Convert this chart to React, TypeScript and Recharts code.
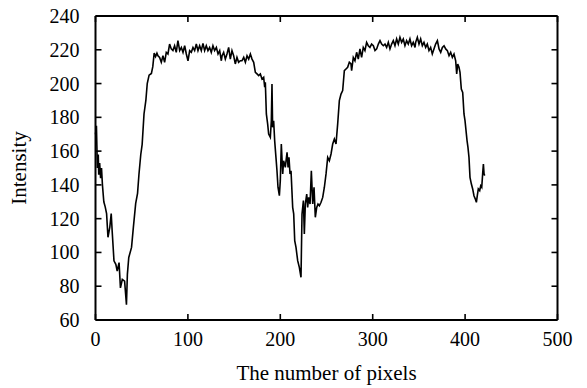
import { LineChart, Line, XAxis, YAxis } from "recharts";

// pixel position along the scan line
const pixelIndex = [
  0, 1, 1.5, 2, 3, 3.5, 4.5, 5.5, 6.5, 7.5, 9, 10.5, 12, 13.5, 15.5, 17, 18, 20, 22, 23.5,
  25.5, 27, 29, 31.5, 33.5, 34.5, 36, 39, 41, 43.5, 45.5, 47, 49, 50.5, 52.5, 54.5, 56, 58, 60.5, 62,
  63.5, 65, 66.5, 67.6, 69.4, 71.2, 73, 74.8, 76.6, 78.4, 80.2, 82, 83.8, 85.6, 87.4, 89.2, 91.1, 92.9, 94.7, 96.5,
  98.3, 100.1, 101.9, 103.7, 105.5, 107.3, 109.1, 110.9, 112.7, 114.5, 116.3, 118.1, 119.9, 121.7, 123.5, 125.3, 127.1, 128.9, 130.8, 132.6,
  134.4, 136.2, 137, 138.7, 140.5, 142.3, 144.1, 145.9, 147.7, 149.5, 151.3, 153.1, 154.9, 156.7, 158.5, 160.4, 162.2, 164, 165.8, 167.6,
  169.4, 171.2, 173, 174.8, 176.6, 178.4, 180.2, 182, 183.1, 183.8, 184.9, 186.3, 187.4, 189.2, 190.3, 191, 191.7, 192.8, 193.9, 195.3,
  196.4, 197.5, 199, 200, 201.1, 202.6, 203.6, 205.4, 207.3, 208.4, 209.4, 210.5, 211.6, 213.4, 214.5, 215.6, 217, 218.8, 220.6, 222.4,
  223.5, 225, 226, 227.1, 228.6, 229.6, 230.7, 232.2, 233.6, 235.1, 236.5, 237.9, 239.4, 240.8, 242.3, 244.1, 245.9, 247.7, 249.5, 251.3,
  253.1, 254.9, 256.7, 258.5, 260.3, 262.1, 263.9, 265.7, 267.5, 269.3, 271.1, 272.9, 274.7, 276.5, 277.2, 279, 280.8, 282.6, 284.4, 286.2,
  288, 289.8, 291.6, 293.4, 295.2, 297, 298.8, 300.7, 302.5, 304.3, 306.1, 307.9, 309.7, 311.5, 313.3, 315.1, 316.9, 318.7, 320.5, 322.3,
  324.1, 325.9, 327.7, 329.5, 331.3, 333.1, 334.9, 336.7, 338.5, 340.3, 342.1, 343.9, 345.8, 346.5, 348.3, 350.1, 351.9, 353.7, 355.5, 357.3,
  359.1, 360.9, 362.7, 364.5, 366.3, 368.1, 370, 371.8, 373.6, 375.4, 377.2, 379, 380.8, 382.6, 384.4, 386.2, 388, 389.8, 390.9, 392,
  393.4, 394.5, 395.9, 397.4, 398.8, 399.9, 401, 402.1, 403.1, 404.2, 405.3, 406.8, 408.2, 409.6, 411.1, 412.2, 413.2, 414.3, 415.8, 416.9,
  418, 419, 419.8, 420.5, 421.2,
];

const intensity = [
  170, 175, 163, 150, 158, 146, 153, 144, 150, 140, 130, 127, 123, 109, 115, 123, 113, 95, 93, 89,
  94, 79, 84, 83, 69, 87, 97, 103, 115, 129, 135, 146, 158, 164, 182, 190, 200, 205, 206, 210,
  218, 216, 218, 216.5, 215.5, 212.6, 216.5, 212.6, 218.5, 217.5, 223.4, 220.5, 219.5, 222.4, 218.5, 225.4, 219.5, 221.4, 218.5, 222.4,
  217.5, 213.5, 219.5, 218.5, 221.4, 219.5, 223.4, 219.5, 222.4, 219.5, 223.8, 219.5, 222.4, 219.5, 221.4, 218.5, 222.4, 219.5, 221.4, 217.5,
  219.5, 213.5, 216.5, 218.5, 214.5, 217.5, 221.4, 214.5, 219.5, 216.5, 211.6, 215.5, 212.6, 213.5, 213.5, 215.5, 212.6, 216.5, 214.5, 217.5,
  214.5, 212.6, 206.6, 205.7, 204.7, 205.7, 202.7, 203.7, 197.8, 200.7, 182, 176.1, 170.1, 168.2, 178, 199.7, 174.1, 178, 166.2, 156.3,
  148.4, 138.6, 133.6, 142.5, 164.2, 146.5, 154.3, 150.4, 159.3, 150.4, 156.3, 146.5, 148.4, 126.7, 122.8, 107, 103, 95.1, 91.2, 85.3,
  122.8, 130.7, 110.9, 128.7, 134.6, 126.7, 132.6, 128.7, 148.4, 128.7, 138.6, 120.8, 126.7, 128.7, 127.7, 129.7, 132.6, 138.6, 146.5, 156.3,
  154.3, 158.3, 164.2, 167.2, 164.2, 176.1, 189.9, 193.8, 195.8, 207.6, 208.6, 209.6, 212.6, 211.6, 207.6, 215.5, 213.5, 218.5, 214.5, 220.5,
  215.5, 221.4, 219.5, 224.4, 222.4, 221.4, 223.4, 222.4, 219.5, 220.5, 223.4, 225.4, 223.4, 222.4, 223.4, 221.4, 224.4, 220.5, 223.4, 225.4,
  222.4, 226.4, 223.4, 227.4, 224.4, 226.4, 222.4, 225.4, 223.4, 226.4, 222.4, 224.4, 221.4, 224.4, 227.4, 223.4, 226.4, 222.4, 224.4, 221.4,
  223.4, 219.5, 221.4, 217.5, 220.5, 223.4, 225.4, 220.5, 218.5, 221.4, 222.4, 220.5, 219.5, 216.5, 218.5, 215.5, 217.5, 213.5, 205.7, 211.6,
  209.6, 206.6, 196.8, 194.8, 182, 178, 172.1, 166.2, 162.2, 156.3, 144.5, 140.5, 137.6, 133.6, 131.6, 129.7, 133.6, 137.6, 136.6, 139.5,
  138.6, 146.5, 152.4, 146.5, 145.5,
];

const xTicks = [0, 100, 200, 300, 400, 500];
const yTicks = [60, 80, 100, 120, 140, 160, 180, 200, 220, 240];

const data = pixelIndex.map((x, i) => ({ x, y: intensity[i] }));

const font = "'Liberation Serif', 'Times New Roman', serif";
const frame = { stroke: "#000", strokeWidth: 2 };
const TICK_LEN = 6;
const X_GAP = 12;
const Y_GAP = 12;

// inward tick mark plus label, like a MATLAB box axis
function BottomTick(props: any) {
  const { x, y, payload } = props;
  const axisY = y - X_GAP;
  return (
    <g>
      <path d={`M${x},${axisY}V${axisY - TICK_LEN}`} stroke="#000" strokeWidth={1.6} fill="none" />
      <text x={x} y={y + 14} textAnchor="middle" fontSize={20} fontFamily={font} fill="#000">
        {payload.value}
      </text>
    </g>
  );
}

function TopTick(props: any) {
  const { x, y } = props;
  const axisY = y + X_GAP;
  return <path d={`M${x},${axisY}V${axisY + TICK_LEN}`} stroke="#000" strokeWidth={1.6} fill="none" />;
}

function LeftTick(props: any) {
  const { x, y, payload } = props;
  const axisX = x + Y_GAP;
  return (
    <g>
      <path d={`M${axisX},${y}H${axisX + TICK_LEN}`} stroke="#000" strokeWidth={1.6} fill="none" />
      <text x={x - 4} y={y + 7} textAnchor="end" fontSize={20} fontFamily={font} fill="#000">
        {payload.value}
      </text>
    </g>
  );
}

function RightTick(props: any) {
  const { x, y } = props;
  const axisX = x - Y_GAP;
  return <path d={`M${axisX},${y}H${axisX - TICK_LEN}`} stroke="#000" strokeWidth={1.6} fill="none" />;
}

export default function App() {
  return (
    <div style={{ margin: "-8px 0 0 -8px", width: 587, height: 388 }}>
      <LineChart
        width={587}
        height={388}
        data={data}
        margin={{ top: 15, right: 28.5, bottom: 0, left: 8 }}
      >
        <XAxis
          dataKey="x"
          type="number"
          domain={[0, 500]}
          ticks={xTicks}
          height={68}
          tickSize={0}
          tickMargin={X_GAP}
          axisLine={frame}
          tickLine={false}
          tick={BottomTick}
          interval={0}
          label={{
            value: "The number of pixels",
            position: "insideBottom",
            offset: 8,
            style: { fontSize: 21, fill: "#000", fontFamily: font },
          }}
        />
        <XAxis
          xAxisId="top"
          dataKey="x"
          orientation="top"
          type="number"
          domain={[0, 500]}
          ticks={xTicks}
          height={1}
          tickSize={0}
          tickMargin={X_GAP}
          axisLine={frame}
          tickLine={false}
          tick={TopTick}
          interval={0}
        />
        <YAxis
          type="number"
          domain={[60, 240]}
          ticks={yTicks}
          width={87.5}
          tickSize={0}
          tickMargin={Y_GAP}
          axisLine={frame}
          tickLine={false}
          tick={LeftTick}
          interval={0}
          label={{
            value: "Intensity",
            angle: -90,
            position: "insideLeft",
            offset: 11,
            style: { fontSize: 21, fill: "#000", fontFamily: font, textAnchor: "middle" },
          }}
        />
        <YAxis
          yAxisId="right"
          orientation="right"
          type="number"
          domain={[60, 240]}
          ticks={yTicks}
          width={1}
          tickSize={0}
          tickMargin={Y_GAP}
          axisLine={frame}
          tickLine={false}
          tick={RightTick}
          interval={0}
        />
        <Line
          xAxisId="top"
          yAxisId="right"
          dataKey="y"
          stroke="none"
          dot={false}
          legendType="none"
          isAnimationActive={false}
        />
        <Line
          dataKey="y"
          stroke="#000"
          strokeWidth={1.6}
          dot={false}
          type="linear"
          isAnimationActive={false}
        />
      </LineChart>
    </div>
  );
}
